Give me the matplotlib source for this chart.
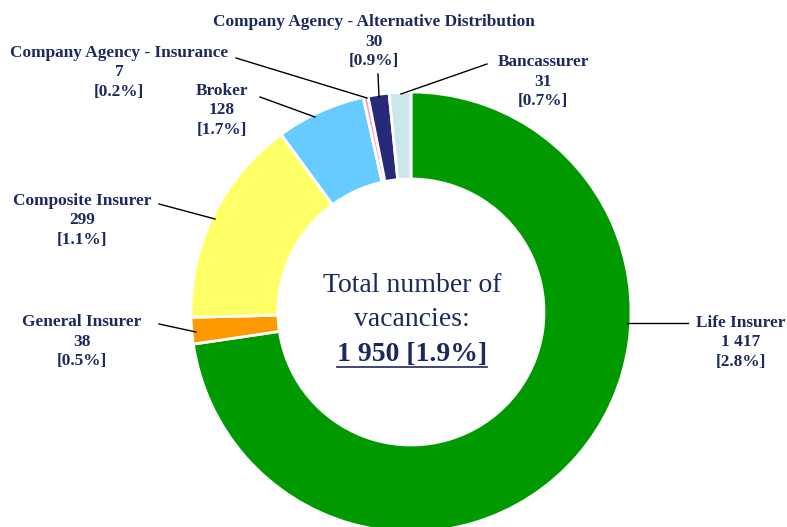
import matplotlib.pyplot as plt
from matplotlib.lines import Line2D

plt.rcParams['font.family'] = ['Liberation Serif', 'DejaVu Serif']

# data
channels = ['Life Insurer', 'General Insurer', 'Composite Insurer', 'Broker',
            'Company Agency - Insurance', 'Company Agency - Alternative Distribution',
            'Bancassurer']
vacancies = [1417, 38, 299, 128, 7, 30, 31]
rates = ['2.8%', '0.5%', '1.1%', '1.7%', '0.2%', '0.9%', '0.7%']
colors = ['#009900', '#FF9900', '#FFFF66', '#66CCFF', '#FF99CC', '#29297A', '#CCE7EB']
total_label = '1 950 [1.9%]'

navy = '#1B2A5E'
W, H = 787, 527


def px(x, y):
    # pixel position (y down) -> axes data (y up)
    return x, H - y


fig = plt.figure(figsize=(W / 100, H / 100), dpi=100)
ax = fig.add_axes([0, 0, 1, 1])

ax.pie(vacancies, colors=colors, startangle=90, counterclock=False,
       center=px(411, 312), radius=220,
       wedgeprops=dict(width=87, edgecolor='white', linewidth=2))
ax.set_xlim(0, W)
ax.set_ylim(0, H)
ax.set_aspect('equal')
ax.axis('off')

# label text position (centre of first line) and leader line (text end, wedge end)
label_pos = [(741, 323), (82, 322), (82, 201), (222, 91), (119, 53), (374, 22), (543, 62)]
leaders = [((688, 323), (627, 323)),
           ((159, 324), (196, 332)),
           ((159, 204), (215, 219)),
           ((260, 97), (315, 117)),
           ((236, 58), (367, 98)),
           ((378, 74), (379, 97)),
           ((487, 64), (401, 94))]


def fmt(v):
    return f'{v:,}'.replace(',', ' ')


for name, v, r, (tx, ty), (p0, p1) in zip(channels, vacancies, rates, label_pos, leaders):
    for i, s in enumerate([name, fmt(v), f'[{r}]']):
        ax.text(*px(tx, ty + 19.5 * i), s, ha='center', va='center',
                fontsize=12.4, fontweight='bold', color=navy)
    (x0, y0), (x1, y1) = px(*p0), px(*p1)
    ax.add_line(Line2D([x0, x1], [y0, y1], color='black', lw=1))

# centre text
ax.text(*px(412, 286), 'Total number of', ha='center', va='center',
        fontsize=20, color=navy)
ax.text(*px(412, 320), 'vacancies:', ha='center', va='center',
        fontsize=20, color=navy)
t = ax.text(*px(412, 361), total_label, ha='center', va='baseline',
            fontsize=20, fontweight='bold', color=navy)

fig.canvas.draw()
bb = t.get_window_extent()
ux0, _ = ax.transData.inverted().transform((bb.x0, bb.y0))
ux1, _ = ax.transData.inverted().transform((bb.x1, bb.y0))
uy = H - 367
ax.add_line(Line2D([ux0, ux1], [uy, uy], color=navy, lw=1.2))

fig.savefig('out.png', dpi=100)
